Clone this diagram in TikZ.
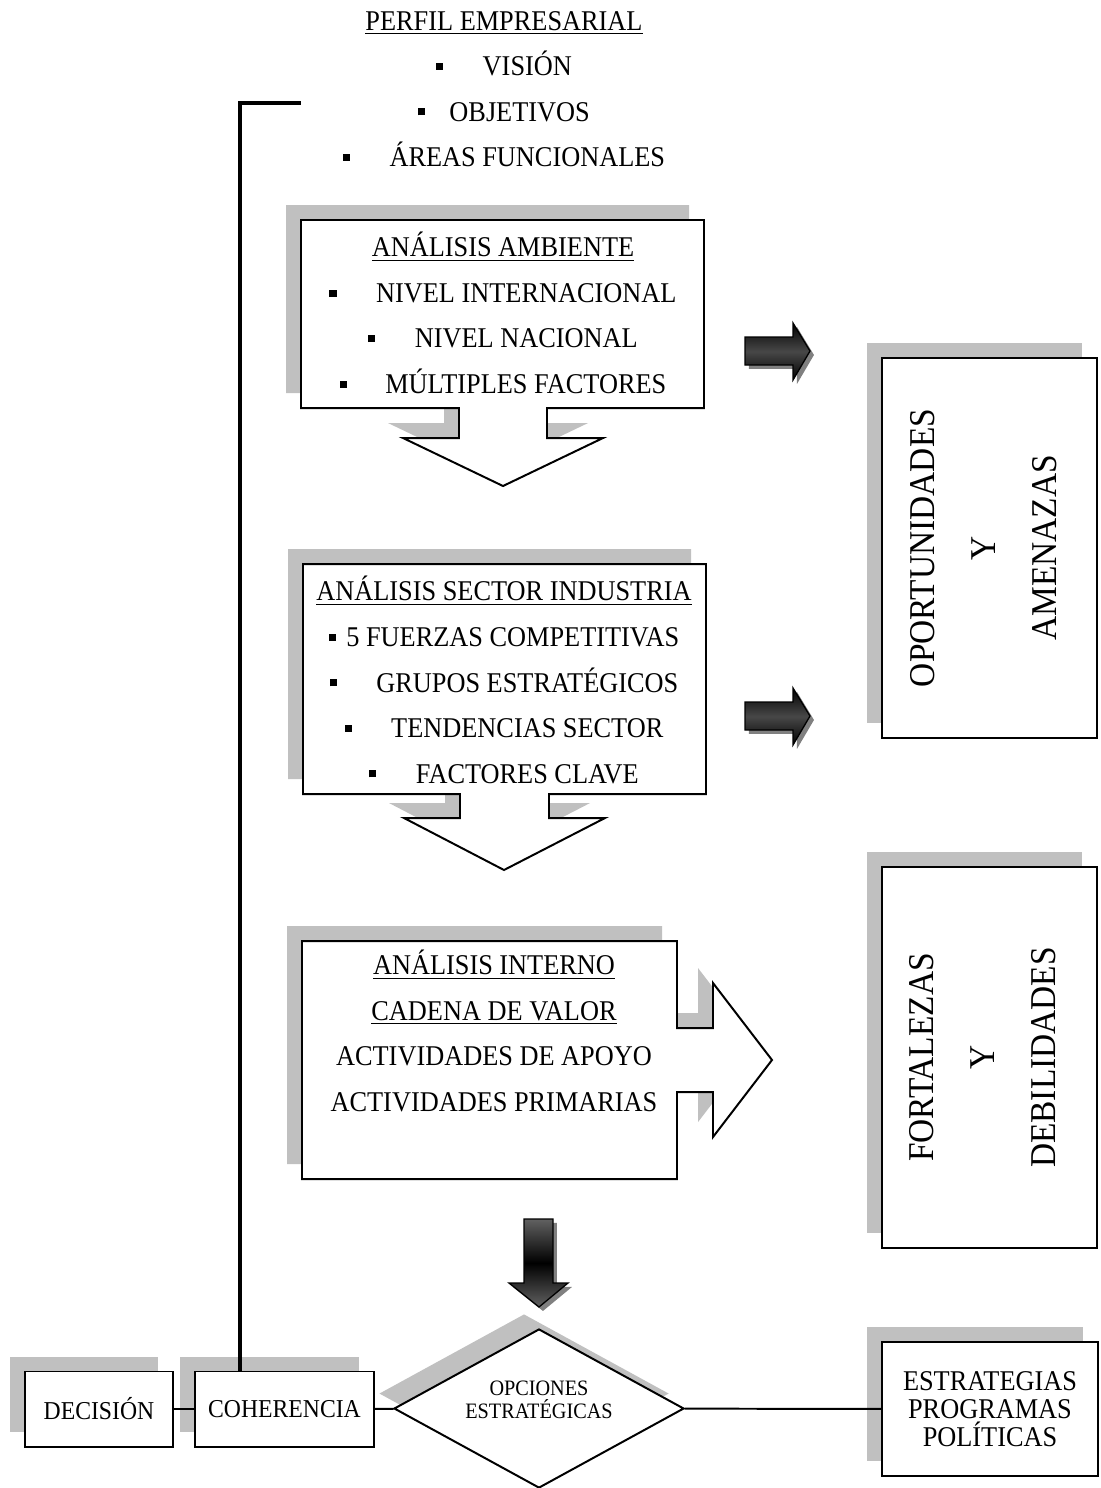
\documentclass[tikz,border=0pt]{standalone}
\usepackage{fontspec}
\setmainfont{Liberation Serif}[FakeStretch=0.92]
\usetikzlibrary{shapes.geometric,shadows}
\definecolor{sombra}{HTML}{C0C0C0}
\definecolor{sombraosc}{HTML}{808080}
\newcommand{\vin}[1][18pt]{\rule[2.6pt]{3.2pt}{3.2pt}\hspace{#1}}
\tikzset{
  consombra/.style={general shadow={fill=sombra,shadow xshift=-6.8pt,
                    shadow yshift=6.8pt}},
  llamada/.style={draw=black,fill=white,line width=0.9pt,consombra},
  caja/.style={draw=black,fill=white,line width=0.9pt,consombra,
               inner sep=0pt,align=center},
  rombo/.style={caja,diamond},
  lista/.style={align=center,inner sep=0pt,
                font=\fontsize{13}{20.7}\selectfont},
  vertical/.style={rotate=90,align=center,inner sep=0pt,
                   font=\fontsize{16.5}{27.7}\selectfont},
  flechader/.style={draw=black,line width=0.6pt,top color=black,
                    bottom color=black,middle color=black!72,
                    general shadow={fill=sombraosc,shadow xshift=1.8pt,
                    shadow yshift=-1.8pt}},
  flechabaj/.style={flechader,top color=black!62,bottom color=black!62,
                    middle color=black},
  linea/.style={line width=0.9pt},
  retorno/.style={line width=1.8pt}
}

\begin{document}
\begin{tikzpicture}[x=0.4545pt,y=0.4545pt]
  \path[use as bounding box] (0,0) rectangle (1101,-1488);
  \path[llamada] (301,-220) -- (704,-220) -- (704,-408) -- (547,-408)
    -- (547,-438) -- (603,-438) -- (503,-486) -- (403,-438) -- (459,-438)
    -- (459,-408) -- (301,-408) -- cycle;
  \path[llamada] (303,-564) -- (706,-564) -- (706,-794) -- (549,-794)
    -- (549,-818) -- (605,-818) -- (504,-870) -- (404,-818) -- (460,-818)
    -- (460,-794) -- (303,-794) -- cycle;
  \path[llamada] (302,-941) -- (677,-941) -- (677,-1028) -- (713,-1028)
    -- (713,-983) -- (772,-1060) -- (713,-1137) -- (713,-1092)
    -- (677,-1092) -- (677,-1179) -- (302,-1179) -- cycle;
  \node[lista] (perfil) at (504,-89) {\underline{PERFIL EMPRESARIAL}\\
    \vin VISIÓN\\ \vin[11pt]OBJETIVOS\\ \vin ÁREAS FUNCIONALES};
  \node[lista] (ambiente) at (503,-313) {\underline{ANÁLISIS AMBIENTE}\\
    \vin NIVEL INTERNACIONAL\\ \vin NIVEL NACIONAL\\
    \vin[17.5pt]MÚLTIPLES FACTORES};
  \node[lista] (sector) at (504,-680) {\underline{ANÁLISIS SECTOR INDUSTRIA}\\
    \vin[4.8pt]5 FUERZAS COMPETITIVAS\\ \vin GRUPOS ESTRATÉGICOS\\
    \vin TENDENCIAS SECTOR\\ \vin FACTORES CLAVE};
  \node[lista] (interno) at (494,-1031) {\underline{ANÁLISIS INTERNO}\\
    \underline{CADENA DE VALOR}\\ ACTIVIDADES DE APOYO\\
    ACTIVIDADES PRIMARIAS};
  \node[caja,minimum width=97.7pt,minimum height=172.7pt] (oport)
    at (989.5,-548) {};
  \node[vertical] (oport-txt) at (984,-548) {OPORTUNIDADES\\Y\\AMENAZAS};
  \node[caja,minimum width=97.7pt,minimum height=173.2pt] (fort)
    at (989.5,-1057.5) {};
  \node[vertical] (fort-txt) at (982.5,-1057.5) {FORTALEZAS\\Y\\DEBILIDADES};
  \foreach \yf in {-351,-716}
    \path[flechader,shift={(0,\yf)}] (745,14) -- (793,14) -- (793,28)
      -- (810,0) -- (793,-29) -- (793,-14) -- (745,-14) -- cycle;
  \path[flechabaj] (524,-1219) -- (553,-1219) -- (553,-1283) -- (568,-1283)
    -- (539,-1307) -- (509,-1283) -- (524,-1283) -- cycle;
  \node[caja,minimum width=67.3pt,minimum height=34.1pt,
    font=\fontsize{11.7}{13}\selectfont] (decision) at (99,-1409) {DECISIÓN};
  \node[caja,minimum width=81.4pt,minimum height=34.1pt,
    font=\fontsize{11.7}{13}\selectfont] (coherencia) at (284.5,-1409)
    {COHERENCIA};
  \node[rombo,minimum width=131.8pt,minimum height=72.3pt] (opciones)
    at (539,-1408.5) {};
  \node[align=center,inner sep=0pt,font=\fontsize{10}{10.6}\selectfont]
    (opciones-txt) at (539,-1400) {OPCIONES\\ESTRATÉGICAS};
  \node[caja,minimum width=98.2pt,minimum height=60.9pt,
    font=\fontsize{13}{12.8}\selectfont] (estrategias) at (990,-1409)
    {ESTRATEGIAS\\PROGRAMAS\\POLÍTICAS};
  \coordinate (vuelta) at (301,-103);
  \draw[linea] (decision) -- (coherencia);
  \draw[linea] (coherencia) -- (opciones);
  \draw[linea] (opciones) -- (estrategias);
  \draw[retorno] (coherencia.north west) ++(46,0) |- (vuelta);
\end{tikzpicture}
\end{document}
